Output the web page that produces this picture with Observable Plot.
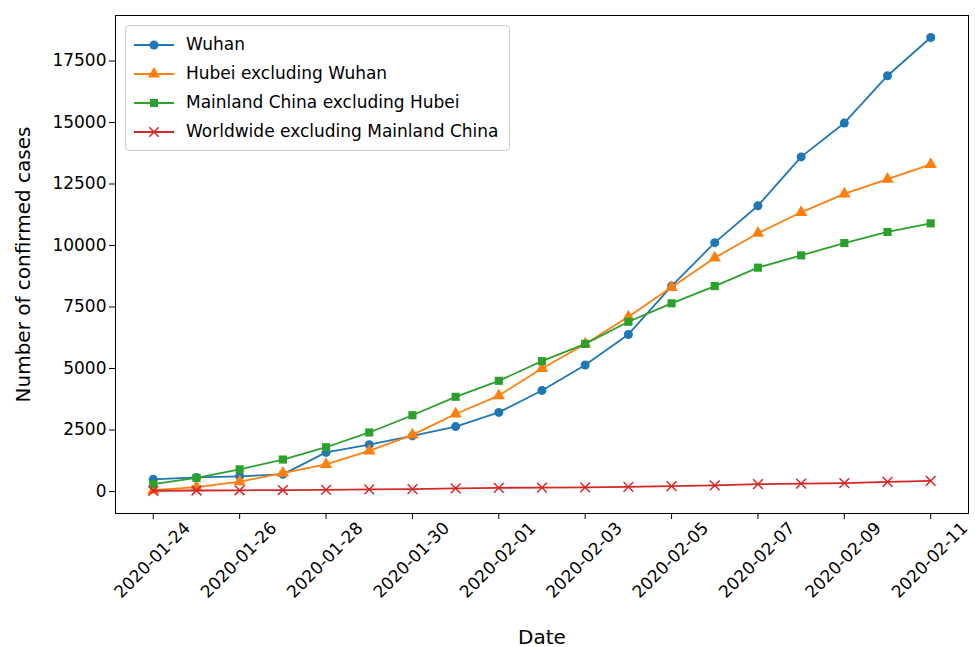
<!DOCTYPE html>
<html>
<head>
<meta charset="utf-8">
<script src="https://cdn.jsdelivr.net/npm/d3@7"></script>
<script src="https://cdn.jsdelivr.net/npm/@observablehq/plot@0.6"></script>
<style>
  body { margin: 0; background: white; font-family: "DejaVu Sans", sans-serif; }
  #chart { position: relative; width: 975px; height: 647px; }
  #legend { position: absolute; left: 125px; top: 25px; background: white; border: 1px solid #ccc;
    border-radius: 4px; padding: 4px 10px 4px 8px; font-size: 17px; line-height: 29px; }
  #legend div { display: flex; align-items: center; }
  #legend svg { margin-right: 12px; }
</style>
</head>
<body>
<div id="chart"><div id="legend"></div></div>
<script>
const dates = ["2020-01-24","2020-01-25","2020-01-26","2020-01-27","2020-01-28","2020-01-29","2020-01-30",
  "2020-01-31","2020-02-01","2020-02-02","2020-02-03","2020-02-04","2020-02-05","2020-02-06","2020-02-07",
  "2020-02-08","2020-02-09","2020-02-10","2020-02-11"]
const tickDates = ["2020-01-24","2020-01-26","2020-01-28","2020-01-30","2020-02-01","2020-02-03","2020-02-05","2020-02-07","2020-02-09","2020-02-11"]
const yTicks = [0, 2500, 5000, 7500, 10000, 12500, 15000, 17500]
const wuhan = [495, 572, 618, 698, 1590, 1905, 2261, 2639, 3215, 4109, 5142, 6384, 8351, 10117, 11618, 13603, 14982, 16902, 18454]
const hubeiExWuhan = [54, 180, 400, 750, 1100, 1650, 2300, 3150, 3900, 5000, 6000, 7100, 8300, 9500, 10500, 11350, 12100, 12700, 13300]
const chinaExHubei = [300, 550, 900, 1300, 1800, 2400, 3100, 3850, 4500, 5300, 6000, 6900, 7650, 8350, 9100, 9600, 10100, 10550, 10900]
const worldExChina = [30, 40, 50, 60, 70, 90, 100, 130, 150, 160, 170, 190, 220, 250, 300, 320, 340, 390, 430]

const series = [
  {name: "Wuhan", values: wuhan, color: "#1f77b4", symbol: "circle"},
  {name: "Hubei excluding Wuhan", values: hubeiExWuhan, color: "#ff7f0e", symbol: "triangle"},
  {name: "Mainland China excluding Hubei", values: chinaExHubei, color: "#2ca02c", symbol: "square"},
  {name: "Worldwide excluding Mainland China", values: worldExChina, color: "#d62728", symbol: "times"}
]

const parse = d3.utcParse("%Y-%m-%d")
const rows = series.flatMap(s => s.values.map((v, i) => ({date: parse(dates[i]), value: v, name: s.name})))

const marks = [Plot.frame({stroke: "black"})]
for (const s of series) {
  const d = rows.filter(r => r.name === s.name)
  marks.push(Plot.line(d, {x: "date", y: "value", stroke: s.color, strokeWidth: 1.8}))
  marks.push(Plot.dot(d, s.symbol === "times"
    ? {x: "date", y: "value", symbol: "times", stroke: s.color, r: 4.5, strokeWidth: 1.5}
    : {x: "date", y: "value", symbol: s.symbol, fill: s.color, stroke: "none", r: s.symbol === "circle" ? 4.5 : 4.6}))
}

const chart = Plot.plot({
  width: 975, height: 647,
  marginLeft: 115, marginRight: 7, marginTop: 15, marginBottom: 134,
  style: {fontFamily: "DejaVu Sans", fontSize: "17px", color: "black"},
  x: {type: "utc", domain: [new Date(Date.UTC(2020,0,23,3)), new Date(Date.UTC(2020,1,11,21))],
      ticks: tickDates.map(parse),
      tickFormat: d3.utcFormat("%Y-%m-%d"), tickRotate: -45, tickSize: 6,
      label: "Date", labelAnchor: "center", labelOffset: 130, labelArrow: "none"},
  y: {domain: [-894, 19350], ticks: yTicks, tickFormat: d => String(d), tickSize: 6,
      label: "Number of confirmed cases", labelAnchor: "center", labelOffset: 100, labelArrow: "none"},
  marks
})
d3.select(chart).selectAll("[aria-label='x-axis label'] text, [aria-label='y-axis label'] text").style("font-size", "20px")
// matplotlib centres rotated tick labels under the tick
d3.select(chart).selectAll("[aria-label='x-axis tick label'] text")
  .attr("transform", function () { return "translate(34,0) " + (this.getAttribute("transform") || "") })
document.getElementById("chart").prepend(chart)

const legend = d3.select("#legend")
const shapes = {circle: d3.symbolCircle, triangle: d3.symbolTriangle, square: d3.symbolSquare, times: d3.symbolTimes}
for (const s of series) {
  const row = legend.append("div")
  const svg = row.append("svg").attr("width", 40).attr("height", 14)
  svg.append("line").attr("x1", 0).attr("x2", 40).attr("y1", 7).attr("y2", 7).attr("stroke", s.color).attr("stroke-width", 1.8)
  const p = svg.append("path").attr("transform", "translate(20,7)")
    .attr("d", d3.symbol(shapes[s.symbol], s.symbol === "times" ? 60 : 65)())
  if (s.symbol === "times") p.attr("fill", "none").attr("stroke", s.color).attr("stroke-width", 1.5)
  else p.attr("fill", s.color)
  row.append("span").text(s.name)
}
</script>
</body>
</html>
